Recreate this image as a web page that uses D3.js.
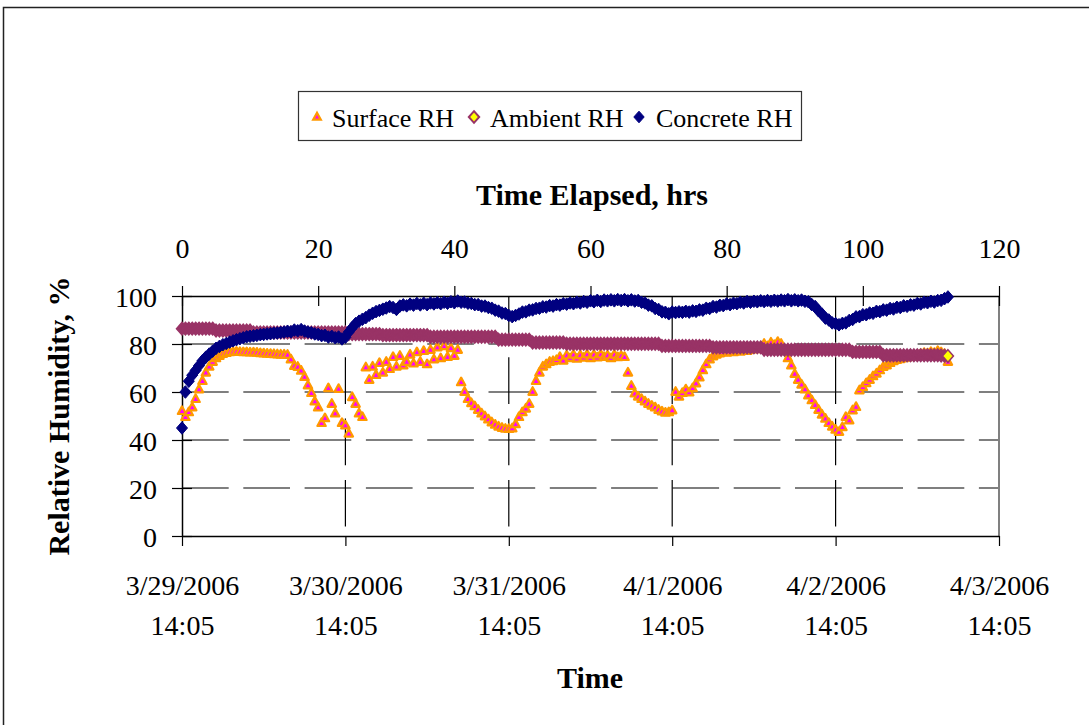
<!DOCTYPE html>
<html><head><meta charset="utf-8">
<script src="https://cdn.jsdelivr.net/npm/d3@7"></script>
<style>
html,body{margin:0;padding:0;background:#fff;}
svg{display:block;font-family:"Liberation Serif","Times New Roman",serif;}
</style></head>
<body><svg id="chart" width="1089" height="725"></svg>
<script>
// ---------------- DATA ----------------
const seriesNames = ["Surface RH", "Ambient RH", "Concrete RH"];
const sampleStepHours = 0.5;           // logger readings every half hour, starting at 0 h
const hourTicks = [0, 20, 40, 60, 80, 100, 120];
const dateTickHours = [0, 24, 48, 72, 96, 120];
const dateLabels = ["3/29/2006", "3/30/2006", "3/31/2006", "4/1/2006", "4/2/2006", "4/3/2006"];
const clockLabel = "14:05";
const rhTicks = [0, 20, 40, 60, 80, 100];

const surfaceRH = [
  52, 49.5, 51.5, 53.5, 57, 61, 64.5, 68, 70.5, 72.5,
  74, 75, 75.8, 76.2, 76.5, 76.6, 76.7, 76.6, 76.5, 76.5,
  76.4, 76.4, 76.3, 76.1, 76, 75.9, 75.8, 75.7, 75.6, 75.5,
  75.5, 75.4, 73.5, 70.8, 70.4, 68.8, 66.2, 62.7, 59.5, 56,
  53.5, 47, 49, 61.5, 55, 51, 61.2, 47, 46, 42.6,
  57.8, 55, 51, 49.5, 70.2, 65, 70.5, 67, 72, 68,
  72.5, 69.5, 74.5, 70.5, 75, 71, 72.5, 75.5, 71.8, 76.5,
  72.5, 77, 71.5, 77.5, 73.5, 78.5, 74, 79, 74.5, 78.2,
  75, 77.5, 64, 60, 57, 55.3, 54, 52.5, 51, 49.8,
  48.5, 47.3, 46.3, 45.5, 45, 44.6, 44.5, 44.8, 46.5, 49.5,
  51.5, 53, 55, 60, 64.5, 68, 70.5, 71.5, 72.5, 72.8,
  73.2, 74.5, 73, 75.2, 74, 75.5, 73.8, 75.3, 74.2, 75.6,
  74, 75.5, 74.3, 75.6, 74.5, 75.2, 74, 75.5, 74.4, 75,
  74.5, 68, 62.5, 59.3, 58, 57, 56, 55, 54.2, 53.5,
  52.5, 51.8, 51.3, 51.5, 52.3, 60, 58, 59.5, 61, 59.8,
  61.5, 63.5, 66, 69, 71.5, 73.5, 74.8, 75.5, 76, 76.5,
  76.3, 76.8, 76.5, 77, 76.7, 77.2, 77, 77.5, 78, 77.8,
  78.5, 80, 79, 80.5, 79.5, 80.8, 80, 77.5, 74, 71,
  67.5, 65, 63, 61, 58.5, 56.5, 54.5, 52.5, 50.5, 48.8,
  47, 45.5, 44.2, 43.3, 45.3, 49.5, 48.1, 52.3, 53.7, 60.6,
  62, 63.6, 65, 66.5, 67.6, 69, 70.4, 71, 72, 72.8,
  73.3, 73.6, 74, 74.3, 74.5, 75, 75.4, 75.8, 76.2, 76,
  76.6, 76.2, 77, 76.5, 75.8, 72.5
];

const ambientRH = [
  86.4, 86.4, 86.4, 86.4, 86.4, 86.4, 86.4, 86.4, 86.4, 86.4,
  85.6, 85.6, 85.6, 85.6, 85.6, 85.6, 85.6, 85.6, 85.6, 85.6,
  85.6, 84.8, 84.8, 84.8, 84.8, 84.8, 84.8, 84.8, 84.8, 84.8,
  84.8, 84.8, 84.8, 84.8, 84.8, 84.8, 84.8, 84.8, 84.8, 84.8,
  84.8, 84.8, 84.8, 84.8, 84.8, 84.8, 84.8, 84.8, 84.8, 84.1,
  84.1, 84.1, 84.1, 84.1, 84.1, 84.1, 84.1, 84.1, 84.1, 83.7,
  83.7, 83.7, 83.7, 83.7, 83.7, 83.7, 83.7, 83.7, 83.7, 83.7,
  83.7, 83.7, 83.7, 83, 83, 83, 83, 83, 83, 83,
  83, 83, 83, 83, 83, 83, 83, 83, 83, 83,
  83, 83, 83, 81.8, 81.8, 81.8, 81.8, 81.8, 81.8, 81.8,
  81.8, 81.8, 81.8, 80.6, 80.6, 80.6, 80.6, 80.6, 80.6, 80.6,
  80.6, 80.6, 80.6, 80.1, 80.1, 80.1, 80.1, 80.1, 80.1, 80.1,
  80.1, 80.1, 80.1, 80.1, 80.1, 80.1, 80.1, 80.1, 80.1, 80.1,
  80.1, 80.1, 80.1, 80.1, 80.1, 80.1, 80.1, 80.1, 80.1, 80.1,
  80.1, 79.2, 79.2, 79.2, 79.2, 79.2, 79.2, 79.2, 79.2, 79.2,
  79.2, 79.2, 79.2, 79.2, 79.2, 79.2, 78.6, 78.6, 78.6, 78.6,
  78.6, 78.6, 78.6, 78.6, 78.6, 78.6, 78.6, 78.6, 78.6, 78.6,
  78.6, 77.6, 77.6, 77.6, 77.6, 77.6, 77.6, 77.6, 77.6, 77.6,
  77.6, 77.6, 77.6, 77.6, 77.6, 77.6, 77.6, 77.6, 77.6, 77.6,
  77.6, 77.6, 77.6, 77.6, 77.6, 77.6, 77.6, 76.7, 76.7, 76.7,
  76.7, 76.7, 76.7, 76.7, 76.7, 76.7, 75.3, 75.3, 75.3, 75.3,
  75.3, 75.3, 75.3, 75.3, 75.3, 75.3, 75.3, 75.3, 75.3, 75.3,
  75.3, 75.3, 75.3, 75.2, 75.1, 75
];

const concreteRH = [
  45, 60, 64.5, 67, 69, 71, 73, 74.5, 75.8, 77,
  78.2, 79, 79.7, 80.2, 80.8, 81.3, 81.8, 82.2, 82.6, 83,
  83.2, 83.4, 83.6, 83.9, 84, 84.2, 84.3, 84.5, 84.6, 84.8,
  85, 85.3, 85.1, 85.8, 85.5, 86, 85.4, 85, 84.7, 84.2,
  84, 83.5, 83.6, 82.9, 83.2, 82.6, 82.9, 82.1, 82.8, 85,
  86.8, 88.5, 89.5, 90.3, 91, 92, 92.8, 93.5, 94, 94.5,
  95, 95.6, 95.2, 94.4, 95.8, 96.3, 95.9, 96.6, 96.2, 96.9,
  96.3, 97, 96.4, 97.1, 96.7, 97.2, 96.8, 97.4, 97, 97.6,
  97.2, 97.9, 97.4, 97.5, 97, 96.9, 96.4, 96.4, 95.8, 95.8,
  95.2, 94.9, 94.1, 93.7, 92.9, 92.7, 91.9, 91.4, 91.9, 92.5,
  93.3, 93.4, 94.1, 94.2, 94.8, 94.9, 95.5, 95.4, 96, 95.8,
  96.4, 96.2, 96.8, 96.6, 97.1, 96.8, 97.4, 97.1, 97.7, 97.4,
  98, 97.6, 98.2, 97.7, 98.3, 98, 98.4, 98, 98.5, 98.1,
  98.5, 98, 98.4, 97.9, 98.1, 97.4, 97.1, 96.2, 95.9, 94.8,
  94.4, 93.4, 93.2, 92.6, 93.3, 93.1, 93.4, 93.2, 93.6, 93.3,
  93.8, 93.6, 94.2, 94.1, 94.9, 94.8, 95.6, 95.4, 96.1, 96,
  96.7, 96.4, 97, 96.8, 97.4, 97.1, 97.7, 97.4, 97.8, 97.6,
  98, 97.7, 98.1, 97.8, 98.2, 97.9, 98.3, 98, 98.5, 98,
  98.4, 98, 98.3, 97.8, 97.6, 96.4, 95.6, 93.8, 92.5, 90.8,
  90, 88.8, 88.5, 88, 88.6, 88.8, 89.8, 90.2, 91.3, 91.4,
  92.2, 92.2, 92.9, 92.8, 93.6, 93.5, 94.2, 94.1, 94.8, 94.6,
  95.3, 95.2, 95.9, 95.7, 96.3, 96.2, 96.9, 96.7, 97.4, 97.2,
  97.8, 97.5, 98.1, 98.2, 98.9, 99.6
];

// ---------------- STYLE ----------------
const FONT = "Liberation Serif, Times New Roman, serif";
const colSurfaceEdge = "#FF9900", colSurfaceFill = "#FF00FF";
const colAmbEdge = "#993366", colAmbFill = "#FFFF00";
const colConcrete = "#000080";

const svg = d3.select("#chart");
svg.append("rect").attr("x",0).attr("y",0).attr("width",1089).attr("height",725).attr("fill","#fff");
// chart area border (extends past the picture on the right and bottom)
svg.append("rect").attr("x",3.5).attr("y",7.5).attr("width",1100).attr("height",740)
  .attr("fill","none").attr("stroke","#222").attr("stroke-width",1.5);

const x = d3.scaleLinear().domain([0,120]).range([182,999]);
const y = d3.scaleLinear().domain([0,100]).range([536,296]);

const toPoints = vals => vals.map((v,i) => ({h: i*sampleStepHours, v}));

// ---------------- GRIDLINES ----------------
const dash = "46.7,14.6";
svg.append("g").selectAll("line").data(rhTicks.filter(t => t>0 && t<100)).join("line")
  .attr("x1", x(0)).attr("x2", x(120)).attr("y1", d=>y(d)).attr("y2", d=>y(d))
  .attr("stroke","#000").attr("stroke-width",1.2).attr("stroke-dasharray",dash);
svg.append("g").selectAll("line").data(dateTickHours.filter(t => t>0 && t<120)).join("line")
  .attr("x1", d=>x(d)).attr("x2", d=>x(d)).attr("y1", y(100)).attr("y2", y(0))
  .attr("stroke","#000").attr("stroke-width",1.2).attr("stroke-dasharray",dash);
// plot area right border
svg.append("line").attr("x1",x(120)).attr("x2",x(120)).attr("y1",y(100)).attr("y2",y(0))
  .attr("stroke","#808080").attr("stroke-width",2);

// ---------------- AXES ----------------
const tickFont = 28;
const gL = svg.append("g").attr("transform",`translate(${x(0)},0)`)
  .call(d3.axisLeft(y).tickValues(rhTicks).tickSize(10).tickSizeOuter(0).tickPadding(15));
gL.attr("font-family",FONT);
gL.selectAll(".tick line").attr("x1",10).attr("stroke-width",1.2);
gL.select(".domain").attr("stroke-width",1.5);
gL.selectAll("text").attr("font-size",tickFont).attr("font-family",FONT).attr("dy","0.38em").attr("fill","#000");

const gT = svg.append("g").attr("transform",`translate(0,${y(100)})`)
  .call(d3.axisTop(x).tickValues(hourTicks).tickSize(10).tickSizeOuter(0).tickPadding(28));
gT.attr("font-family",FONT);
gT.selectAll(".tick line").attr("y1",10).attr("stroke-width",1.2);
gT.select(".domain").attr("stroke-width",1.5);
gT.selectAll("text").attr("font-size",tickFont).attr("font-family",FONT).attr("fill","#000");

const gB = svg.append("g").attr("transform",`translate(0,${y(0)})`)
  .call(d3.axisBottom(x).tickValues(dateTickHours).tickSize(10).tickSizeOuter(0).tickFormat(""));
gB.attr("font-family",FONT);
gB.select(".domain").attr("stroke-width",1.5);
gB.selectAll(".tick line").attr("stroke-width",1.2);
gB.selectAll(".tick").append("text").attr("font-size",tickFont).attr("font-family",FONT)
  .attr("fill","#000").attr("text-anchor","middle").attr("y",59).attr("dy",0)
  .text((d,i)=>dateLabels[i]);
gB.selectAll(".tick").append("text").attr("font-size",tickFont).attr("font-family",FONT)
  .attr("fill","#000").attr("text-anchor","middle").attr("y",99).attr("dy",0)
  .text(clockLabel);

// ---------------- TITLES ----------------
svg.append("text").attr("x",592).attr("y",205).attr("text-anchor","middle")
  .attr("font-family",FONT).attr("font-weight","bold").attr("font-size",30).text("Time Elapsed, hrs");
svg.append("text").attr("x",590).attr("y",688).attr("text-anchor","middle")
  .attr("font-family",FONT).attr("font-weight","bold").attr("font-size",30).text("Time");
svg.append("text").attr("transform","translate(69,416) rotate(-90)").attr("text-anchor","middle")
  .attr("font-family",FONT).attr("font-weight","bold").attr("font-size",30).text("Relative Humidity, %");

// ---------------- MARKERS ----------------
const triPath = "M0,-4.8L4.2,2.8L-4.2,2.8Z";
const diaPath = "M0,-6.3L5.5,0L0,6.3L-5.5,0Z";

const surfPts = toPoints(surfaceRH);
svg.append("g").selectAll("path").data(surfPts).join("path")
  .attr("d",triPath).attr("transform",d=>`translate(${x(d.h)},${y(d.v)})`)
  .attr("fill",colSurfaceFill).attr("stroke",colSurfaceEdge).attr("stroke-width",2.2).attr("stroke-linejoin","round");

const ambPts = toPoints(ambientRH);
// densely logged markers overlap, so only the outline colour shows except on the final reading
svg.append("g").selectAll("path").data(ambPts).join("path")
  .attr("d",diaPath).attr("transform",d=>`translate(${x(d.h)},${y(d.v)})`)
  .attr("fill",(d,i)=> i===ambPts.length-1 ? colAmbFill : colAmbEdge)
  .attr("stroke",colAmbEdge).attr("stroke-width",1.5);

const conPts = toPoints(concreteRH);
svg.append("g").selectAll("path").data(conPts).join("path")
  .attr("d",diaPath).attr("transform",d=>`translate(${x(d.h)},${y(d.v)})`)
  .attr("fill",colConcrete).attr("stroke",colConcrete).attr("stroke-width",1);

// ---------------- LEGEND ----------------
const lg = svg.append("g");
lg.append("rect").attr("x",298.5).attr("y",91.5).attr("width",503).attr("height",49)
  .attr("fill","#fff").attr("stroke","#333").attr("stroke-width",1.2);
const legendItems = [
  {name: seriesNames[0], mx: 317, tx: 332, shape: "M0,-4.2L3.8,2.6L-3.8,2.6Z", fill: colSurfaceFill, stroke: colSurfaceEdge, sw: 2.2},
  {name: seriesNames[1], mx: 474, tx: 490, shape: "M0,-5.8L5.2,0L0,5.8L-5.2,0Z", fill: colAmbFill, stroke: colAmbEdge, sw: 2},
  {name: seriesNames[2], mx: 639, tx: 656, shape: "M0,-5.8L5.2,0L0,5.8L-5.2,0Z", fill: colConcrete, stroke: colConcrete, sw: 1}
];
legendItems.forEach(it => {
  lg.append("path").attr("d",it.shape).attr("transform",`translate(${it.mx},117)`)
    .attr("fill",it.fill).attr("stroke",it.stroke).attr("stroke-width",it.sw);
  lg.append("text").attr("x",it.tx).attr("y",127).attr("font-family",FONT).attr("font-size",26)
    .attr("fill","#000").text(it.name);
});
</script>
</body></html>
